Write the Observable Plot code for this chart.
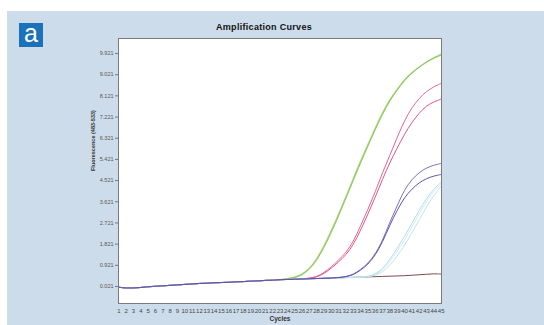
<!DOCTYPE html>
<html>
<head>
<meta charset="utf-8">
<script src="https://cdn.jsdelivr.net/npm/d3@7"></script>
<script src="https://cdn.jsdelivr.net/npm/@observablehq/plot@0.6"></script>
<style>
  html, body { margin: 0; padding: 0; background: #ffffff; }
  #wrap { position: relative; width: 544px; height: 325px; overflow: hidden; font-family: "Liberation Sans", Arial, sans-serif; }
  #panel { position: absolute; left: 7px; top: 11px; right: 0; bottom: 0; background: #cddcea; }
  #badge { position: absolute; left: 19px; top: 23px; width: 24px; height: 24px; background: #1a72bb; color: #fff;
           font-size: 25px; line-height: 20px; text-align: center; }
  #title { position: absolute; left: 164px; width: 200px; top: 22px; text-align: center; font-weight: bold;
           font-size: 9px; color: #111; letter-spacing: 0.3px; }
  #chart { position: absolute; left: 0; top: 0; }
</style>
</head>
<body>
<div id="wrap">
  <div id="panel"></div>
  <div id="badge">a</div>
  <div id="title">Amplification Curves</div>
  <div id="chart"></div>
</div>
<script>
// Cycle numbers (x axis tick labels)
const cycles = [1,2,3,4,5,6,7,8,9,10,11,12,13,14,15,16,17,18,19,20,21,22,23,24,25,26,27,28,29,30,31,32,33,34,35,36,37,38,39,40,41,42,43,44,45];
// Y tick values
const yTicks = [0.021, 0.921, 1.821, 2.721, 3.621, 4.521, 5.421, 6.321, 7.221, 8.121, 9.021, 9.921];

const baseline = [-0.01,-0.04,-0.04,-0.02,0.01,0.03,0.05,0.07,0.09,0.11,0.13,0.15,0.16,0.18,0.19,0.20,0.22,0.23,0.25,0.26,0.28,0.29,0.31,0.32,0.33,0.34,0.35,0.36,0.37,0.38,0.39,0.40,0.41,0.42,0.43,0.44,0.45,0.46,0.47,0.48,0.50,0.52,0.54,0.56,0.55];

// Rising parts of each curve (values up to cycle 45)
const greenATail  = [0.36,0.42,0.55,0.80,1.20,1.75,2.40,3.10,3.85,4.60,5.35,6.05,6.75,7.40,7.95,8.40,8.80,9.10,9.35,9.55,9.72,9.85];
const greenBTail  = [0.35,0.40,0.52,0.76,1.14,1.68,2.32,3.02,3.77,4.52,5.27,5.98,6.68,7.33,7.90,8.36,8.76,9.08,9.34,9.56,9.74,9.90];
const pinkATail   = [0.38,0.45,0.62,0.86,1.15,1.48,1.95,2.60,3.30,4.05,4.85,5.60,6.35,7.05,7.60,8.00,8.30,8.50,8.65];
const pinkBTail   = [0.37,0.43,0.58,0.80,1.07,1.38,1.82,2.42,3.10,3.82,4.57,5.28,5.90,6.48,6.98,7.38,7.68,7.86,7.98];
const purpleATail = [0.41,0.45,0.55,0.75,1.02,1.42,2.00,2.75,3.45,4.10,4.55,4.85,5.05,5.17,5.25];
const purpleBTail = [0.40,0.44,0.53,0.72,0.98,1.37,1.93,2.62,3.25,3.78,4.15,4.42,4.60,4.71,4.78];
const cyanATail   = [0.46,0.56,0.80,1.18,1.65,2.15,2.70,3.25,3.75,4.15,4.45];
const cyanBTail   = [0.44,0.50,0.66,0.94,1.32,1.78,2.30,2.85,3.40,3.88,4.28];
const cyanCTail   = [0.45,0.53,0.74,1.08,1.52,2.00,2.55,3.10,3.62,4.05,4.38];

function withBase(tail) { return baseline.slice(0, 45 - tail.length).concat(tail); }

const series = [
  {name: "brown",   color: "#7d4a4a", values: baseline,               w: 1},
  {name: "greenA",  color: "#a6d478", values: withBase(greenATail),  w: 1.2},
  {name: "greenB",  color: "#8cc55a", values: withBase(greenBTail),  w: 1},
  {name: "pinkA",   color: "#ea6493", values: withBase(pinkATail),   w: 1},
  {name: "pinkB",   color: "#e2548a", values: withBase(pinkBTail),   w: 1},
  {name: "cyanC",   color: "#d2ecf2", values: withBase(cyanCTail),   w: 1},
  {name: "cyanA",   color: "#b0dde8", values: withBase(cyanATail),   w: 1},
  {name: "cyanB",   color: "#bfe4ec", values: withBase(cyanBTail),   w: 1},
  {name: "purpleA", color: "#7a70bb", values: withBase(purpleATail), w: 1},
  {name: "purpleB", color: "#5e54a8", values: withBase(purpleBTail), w: 1}
];

const marks = [
  Plot.frame({fill: "#ffffff", stroke: "none"}),
];
for (const s of series) {
  const rows = cycles.map((c, i) => ({cycle: c, value: s.values[i]}));
  marks.push(Plot.line(rows, {x: "cycle", y: "value", stroke: s.color, strokeWidth: s.w, curve: "catmull-rom"}));
}
marks.push(
  Plot.frame({stroke: "#7a7a7a", strokeWidth: 1}),
  Plot.axisY(yTicks, {tickFormat: d3.format(".3f"), tickSize: 3, tickPadding: 2, fontSize: 5.5, fill: "#555", stroke: "#777", label: null}),
  Plot.axisX(cycles, {tickFormat: d => String(d), tickSize: 0, tickPadding: 5, fontSize: 6, fill: "#444", label: null,
    fontFamily: "Liberation Sans Narrow, Liberation Sans, sans-serif"}),
  Plot.text(["Fluorescence (483-533)"], {frameAnchor: "left", dx: -25, rotate: -90, text: d => d, fontSize: 5.5, fontWeight: "bold", fill: "#333"}),
  Plot.text(["Cycles"], {frameAnchor: "bottom", dy: 17, text: d => d, fontSize: 6.5, fontWeight: "bold", fill: "#333"})
);

const chart = Plot.plot({
  width: 544,
  height: 325,
  marginLeft: 118,
  marginRight: 103,
  marginTop: 38,
  marginBottom: 22,
  style: {background: "transparent", fontFamily: "Liberation Sans, Arial, sans-serif"},
  x: {domain: [0.95, 45.05]},
  y: {domain: [-0.701, 10.558]},
  marks
});
document.getElementById("chart").appendChild(chart);
</script>
</body>
</html>
